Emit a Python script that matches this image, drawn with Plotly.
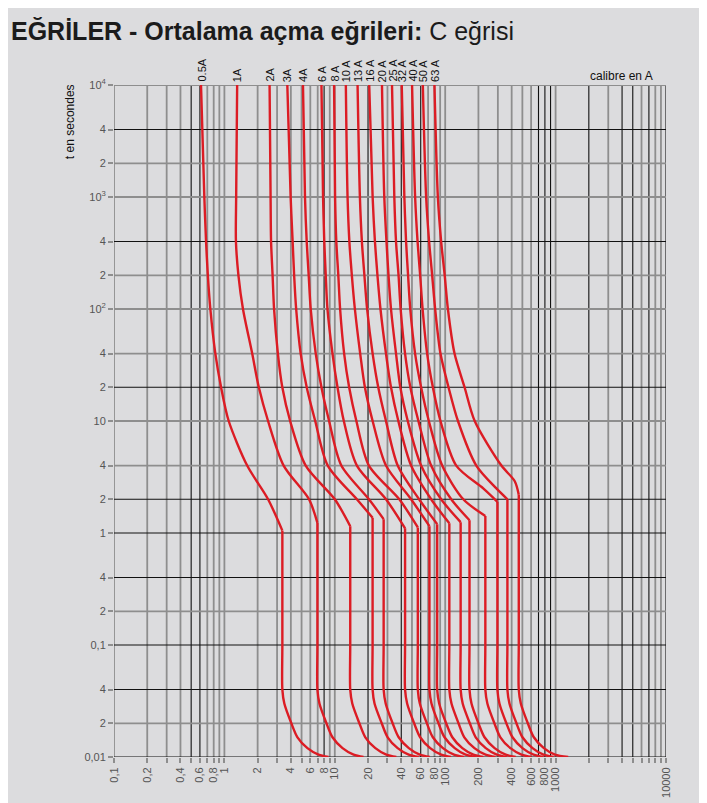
import math

import plotly.graph_objects as go

# curve labels (rating of each breaker)
ratings = ["0.5A", "1A", "2A", "3A", "4A", "6 A", "8 A", "10 A", "13 A",
           "16 A", "20 A", "25 A", "32 A", "40 A", "50 A", "63 A"]

# thermal part, times shared by every curve
thermal_secs = [10000, 1000, 400, 200, 100, 40, 20, 10, 4]
thermal_amps = [
    [0.614, 0.658, 0.682, 0.708, 0.746, 0.828, 0.933, 1.094, 1.608],
    [1.305, 1.278, 1.272, 1.340, 1.473, 1.786, 2.050, 2.486, 3.44],
    [2.566, 2.620, 2.647, 2.732, 2.818, 3.051, 3.346, 3.940, 5.45],
    [3.715, 3.981, 4.151, 4.283, 4.467, 4.909, 5.566, 6.646, 8.64],
    [5.150, 5.370, 5.566, 5.801, 6.050, 6.72, 7.57, 8.88, 11.46],
    [7.57, 7.83, 8.03, 8.28, 8.58, 9.53, 10.58, 12.07, 15.85],
    [9.85, 10.06, 10.32, 10.76, 11.17, 12.15, 13.49, 15.68, 20.38],
    [12.59, 13.05, 13.55, 14.27, 15.20, 16.98, 18.74, 22.01, 29.08],
    [16.08, 16.88, 17.60, 18.54, 19.62, 22.01, 24.75, 29.08, 37.15],
    [20.50, 22.01, 23.10, 24.34, 25.92, 29.08, 32.29, 37.63, 49.1],
    [26.75, 28.07, 29.39, 30.65, 32.29, 35.85, 39.23, 45.81, 60.5],
    [32.97, 34.60, 35.85, 37.79, 39.48, 43.29, 48.36, 57.2, 74.6],
    [40.4, 42.66, 44.21, 46.10, 48.26, 53.38, 60.5, 71.1, 93.9],
    [50.1, 53.4, 56.2, 59.3, 62.4, 68.6, 77.3, 90.6, 125.9],
    [62.7, 67.2, 71.5, 76.2, 81.1, 90.6, 107.2, 130.5, 191.3],
    [79.9, 85.8, 91.9, 98.97, 105.8, 121.5, 149.8, 185.0, 323.0],
]

# last point before the knee
pre_knee_secs = [2, 2, 2, 2, 2, 2, 2, 2, 2, 2, 2, 2, 2, 2.5, 2.5, 2.9]
pre_knee_amps = [2.486, 5.84, 10.0, 15.85, 20.38, 29.1, 38.4, 49.1, 58.0,
                 74.6, 91.9, 113.4, 145.8, 221.0, 290.8, 426.6]

# knee and magnetic (instantaneous) trip
knee_secs = [1.05, 1.23, 1.15, 1.37, 1.33, 1.1, 1.12, 1.15, 1.2, 1.22, 1.25,
             1.3, 1.42, 1.9, 2.0, 2.2]
trip_amps = [3.35, 6.96, 13.8, 22.0, 27.7, 43.3, 56.5, 72, 84.6, 109, 138,
             166, 231, 297, 366, 464]
magnetic_secs = [0.4, 0.1, 0.04]

# foot of the curves
toe_secs = [0.03, 0.02, 0.015, 0.012, 0.0105, 0.01]
toe_amps = [
    [3.49, 4.04, 4.59, 5.65, 7.12, 8.77],
    [7.26, 8.40, 9.53, 11.75, 14.8, 18.2],
    [14.4, 16.7, 18.9, 23.3, 29.3, 36.1],
    [22.9, 26.6, 30.1, 37.1, 46.7, 57.6],
    [28.9, 33.4, 37.9, 46.8, 58.8, 72.5],
    [45.2, 52.3, 59.3, 73.1, 92.0, 113],
    [58.9, 68.2, 77.3, 95.4, 120, 148],
    [75.1, 86.9, 98.6, 122, 153, 189],
    [88.2, 102, 116, 143, 180, 222],
    [114, 132, 149, 184, 232, 285],
    [144, 167, 189, 233, 293, 361],
    [173, 200, 227, 280, 353, 435],
    [241, 279, 316, 390, 491, 605],
    [310, 358, 407, 501, 631, 778],
    [382, 442, 501, 618, 777, 959],
    [484, 560, 635, 783, 986, 1300],
]

# axes
x_labels = {0.1: "0,1", 0.2: "0,2", 0.4: "0,4", 0.6: "0,6", 0.8: "0,8",
            1: "1", 2: "2", 4: "4", 6: "6", 8: "8", 10: "10", 20: "20",
            40: "40", 60: "60", 80: "80", 100: "100", 200: "200", 400: "400",
            600: "600", 800: "800", 1000: "1000", 10000: "10000"}
y_ticks = [0.01, 0.02, 0.04, 0.1, 0.2, 0.4, 1, 2, 4, 10, 20, 40,
           100, 200, 400, 1000, 2000, 4000, 10000]
y_labels = ["0,01", "2", "4", "0,1", "2", "4", "1", "2", "4", "10", "2", "4",
            "10<sup>2</sup>", "2", "4", "10<sup>3</sup>", "2", "4", "10<sup>4</sup>"]

x_black = [0.5, 0.6, 8, 20, 40, 60, 700, 800, 900, 2000, 4000, 5000, 7000, 10000]
y_black = [0.01, 0.04, 0.1, 0.4, 1, 2, 20, 400, 4000]

RED = "#dc1c24"
GREY = "#8e8e8e"
BG = "#dcdcde"
FONT = "Liberation Sans, Arial, sans-serif"

x_grid = [round(m * 10 ** e, 6) for e in range(-1, 4) for m in range(1, 10)] + [10000]

fig = go.Figure()

for i, name in enumerate(ratings):
    # thermal branch down to the knee
    fig.add_trace(go.Scatter(
        x=thermal_amps[i] + [pre_knee_amps[i], trip_amps[i]],
        y=thermal_secs + [pre_knee_secs[i], knee_secs[i]],
        mode="lines", name=name,
        line=dict(color=RED, width=2.4, shape="spline", smoothing=0.8),
        hoverinfo="skip",
    ))
    # magnetic branch from the knee to the foot
    fig.add_trace(go.Scatter(
        x=[trip_amps[i]] * 4 + toe_amps[i],
        y=[knee_secs[i]] + magnetic_secs + toe_secs,
        mode="lines", name=name,
        line=dict(color=RED, width=2.4, shape="spline", smoothing=0.8),
        hoverinfo="skip",
    ))

shapes = []
for v in x_grid:
    black = v in x_black
    shapes.append(dict(type="line", xref="x", yref="paper", x0=v, x1=v, y0=0, y1=1,
                       layer="below",
                       line=dict(color="#111111" if black else GREY,
                                 width=1.1 if black else 1.8)))
for v in y_ticks:
    black = v in y_black
    shapes.append(dict(type="line", xref="paper", yref="y", x0=0, x1=1, y0=v, y1=v,
                       layer="below",
                       line=dict(color="#111111" if black else GREY,
                                 width=1.1 if black else 1.8)))

annotations = [dict(
    x=-0.19, y=1.0804, xref="paper", yref="paper",
    text="<b>EĞRİLER - Ortalama açma eğrileri:</b> C eğrisi",
    showarrow=False, xanchor="left", yanchor="middle",
    font=dict(family=FONT, size=25, color="#1b1b1b"),
)]
for i, name in enumerate(ratings):
    annotations.append(dict(
        x=math.log10(thermal_amps[i][0]), y=1, xref="x", yref="paper",
        text=name, textangle=-90, showarrow=False, xanchor="center",
        yanchor="bottom", yshift=1, font=dict(family=FONT, size=11, color="#111111"),
    ))
annotations.append(dict(
    x=0.98, y=1, xref="paper", yref="paper", text="calibre en A", showarrow=False,
    xanchor="right", yanchor="bottom", yshift=0,
    font=dict(family=FONT, size=12, color="#111111"),
))
annotations.append(dict(
    x=-0.08, y=0.946, xref="paper", yref="paper", text="t en secondes",
    textangle=-90, showarrow=False, xanchor="center", yanchor="middle",
    font=dict(family=FONT, size=12, color="#111111"),
))

# the page body adds an 8px margin, so the figure is drawn 8px smaller
fig.update_layout(
    width=699, height=795,
    margin=dict(l=106, r=41, t=77, b=46),
    paper_bgcolor=BG, plot_bgcolor=BG,
    showlegend=False,
    shapes=shapes,
    annotations=annotations,
)
fig.update_xaxes(
    type="log", range=[-1, 4], automargin=False,
    tickmode="array", tickvals=x_grid,
    ticktext=[x_labels.get(v, "") for v in x_grid],
    tickangle=-90, ticks="outside", ticklen=5, tickcolor=GREY, tickwidth=1.5,
    showgrid=False, zeroline=False, showline=False,
    tickfont=dict(family=FONT, size=11, color="#555555"),
)
fig.update_yaxes(
    type="log", range=[-2, 4], automargin=False,
    tickmode="array", tickvals=y_ticks, ticktext=y_labels,
    ticks="outside", ticklen=5, tickcolor=GREY, tickwidth=1.5,
    showgrid=False, zeroline=False, showline=False,
    tickfont=dict(family=FONT, size=11, color="#555555"),
)

fig.write_html("out.html")
